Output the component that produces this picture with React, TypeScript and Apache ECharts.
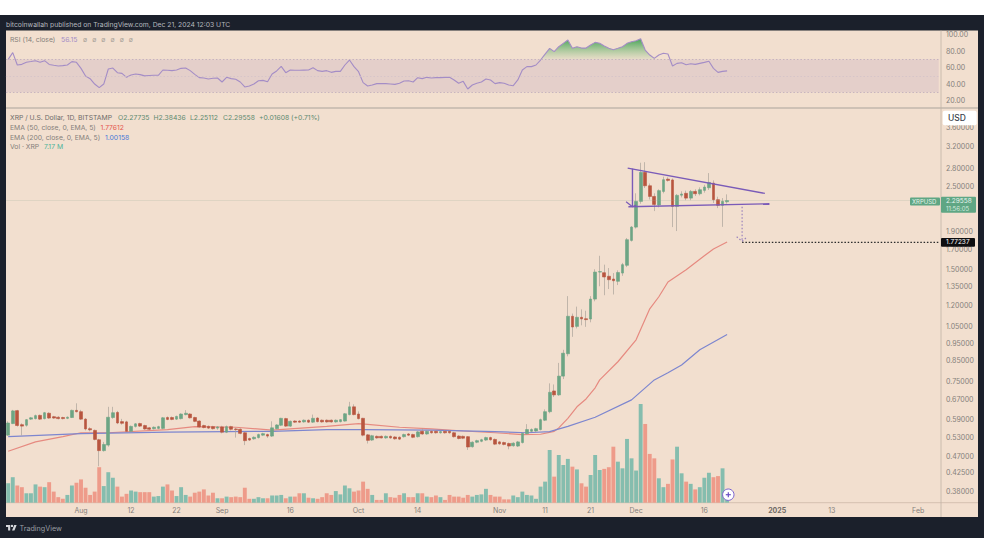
import React, { useEffect, useRef } from "react";
import * as echarts from "echarts";

const opens = [
  0.537,0.577,0.625,0.573,0.571,0.593,0.595,0.607,0.595,0.615,
  0.602,0.600,0.599,0.596,0.599,0.626,0.621,0.593,0.559,0.553,
  0.522,0.488,0.505,0.599,0.618,0.584,0.583,0.550,0.567,0.577,
  0.570,0.562,0.559,0.560,0.560,0.599,0.599,0.593,0.595,0.610,
  0.612,0.599,0.586,0.570,0.567,0.566,0.561,0.565,0.547,0.566,
  0.558,0.557,0.545,0.526,0.525,0.529,0.537,0.539,0.534,0.559,
  0.571,0.595,0.568,0.586,0.586,0.583,0.589,0.582,0.597,0.589,
  0.589,0.589,0.583,0.584,0.586,0.610,0.640,0.612,0.596,0.538,
  0.521,0.533,0.533,0.528,0.533,0.531,0.530,0.532,0.541,0.539,
  0.532,0.550,0.541,0.550,0.550,0.545,0.550,0.550,0.545,0.534,
  0.533,0.532,0.500,0.514,0.517,0.521,0.529,0.523,0.515,0.513,
  0.510,0.503,0.502,0.513,0.542,0.550,0.551,0.556,0.589,0.621,
  0.706,0.689,0.774,0.889,1.121,1.053,1.114,1.104,1.102,1.247,
  1.474,1.468,1.436,1.412,1.392,1.465,1.537,1.793,1.947,2.283,
  2.732,2.515,2.354,2.233,2.428,2.62,2.607,2.213,2.372,2.40,
  2.33,2.428,2.394,2.444,2.484,2.556,2.307,2.228,2.27735,
];
const closes = [
  0.579,0.624,0.570,0.568,0.591,0.598,0.606,0.593,0.617,0.597,
  0.597,0.595,0.595,0.600,0.626,0.621,0.593,0.558,0.555,0.523,
  0.488,0.507,0.600,0.617,0.579,0.578,0.550,0.567,0.576,0.568,
  0.558,0.557,0.564,0.566,0.598,0.592,0.592,0.603,0.612,0.615,
  0.598,0.585,0.565,0.563,0.561,0.559,0.565,0.547,0.566,0.557,
  0.556,0.543,0.519,0.521,0.530,0.539,0.542,0.534,0.562,0.572,
  0.596,0.568,0.585,0.582,0.582,0.589,0.582,0.596,0.584,0.583,
  0.583,0.583,0.589,0.591,0.613,0.640,0.610,0.595,0.537,0.520,
  0.535,0.528,0.528,0.533,0.528,0.525,0.524,0.539,0.537,0.530,
  0.548,0.541,0.550,0.545,0.545,0.549,0.545,0.545,0.532,0.526,
  0.527,0.499,0.514,0.519,0.522,0.529,0.522,0.508,0.509,0.507,
  0.502,0.511,0.515,0.543,0.556,0.556,0.559,0.591,0.621,0.700,
  0.689,0.774,0.892,1.121,1.049,1.114,1.103,1.098,1.247,1.474,
  1.478,1.430,1.406,1.397,1.470,1.543,1.801,1.947,2.283,2.732,
  2.515,2.354,2.240,2.440,2.611,2.60,2.213,2.37,2.39,2.33,
  2.428,2.394,2.454,2.495,2.567,2.307,2.228,2.283,2.29558,
];
const lows = [
  0.535,0.575,0.566,0.536,0.566,0.590,0.592,0.590,0.592,0.594,
  0.594,0.592,0.592,0.593,0.597,0.618,0.590,0.553,0.550,0.520,
  0.443,0.485,0.500,0.594,0.575,0.573,0.547,0.547,0.563,0.565,
  0.555,0.554,0.556,0.557,0.557,0.589,0.589,0.590,0.592,0.607,
  0.595,0.582,0.562,0.560,0.558,0.556,0.555,0.543,0.544,0.553,
  0.529,0.540,0.505,0.518,0.522,0.526,0.534,0.528,0.531,0.556,
  0.568,0.565,0.565,0.579,0.580,0.580,0.579,0.579,0.581,0.580,
  0.580,0.580,0.580,0.581,0.584,0.607,0.607,0.592,0.533,0.510,
  0.518,0.525,0.526,0.525,0.525,0.522,0.521,0.529,0.534,0.527,
  0.529,0.538,0.538,0.542,0.542,0.542,0.542,0.542,0.529,0.523,
  0.524,0.490,0.497,0.511,0.514,0.518,0.519,0.505,0.506,0.504,
  0.492,0.500,0.499,0.510,0.539,0.547,0.548,0.553,0.586,0.615,
  0.68,0.685,0.76,0.875,0.987,1.04,1.06,1.05,1.08,1.23,
  1.35,1.277,1.327,1.283,1.36,1.44,1.52,1.78,1.93,2.25,
  2.48,2.31,2.15,2.20,2.40,2.58,1.947,1.90,2.34,2.30,
  2.30,2.36,2.37,2.41,2.45,2.26,2.19,1.95,2.25112,
];
const highs = [
  0.585,0.628,0.628,0.578,0.593,0.601,0.610,0.610,0.620,0.619,
  0.605,0.604,0.602,0.603,0.629,0.654,0.628,0.597,0.564,0.556,
  0.525,0.515,0.640,0.640,0.624,0.594,0.587,0.570,0.579,0.580,
  0.573,0.565,0.567,0.569,0.601,0.603,0.603,0.606,0.615,0.627,
  0.615,0.602,0.589,0.573,0.570,0.569,0.568,0.569,0.570,0.569,
  0.562,0.560,0.548,0.529,0.533,0.542,0.545,0.542,0.585,0.575,
  0.598,0.598,0.588,0.589,0.589,0.592,0.592,0.610,0.600,0.592,
  0.592,0.592,0.592,0.593,0.616,0.660,0.650,0.622,0.598,0.541,
  0.538,0.536,0.536,0.536,0.536,0.534,0.533,0.542,0.544,0.542,
  0.551,0.560,0.553,0.553,0.553,0.552,0.553,0.553,0.548,0.537,
  0.536,0.534,0.517,0.522,0.525,0.532,0.532,0.526,0.518,0.516,
  0.513,0.514,0.518,0.546,0.575,0.560,0.562,0.595,0.630,0.74,
  0.735,0.84,0.911,1.27,1.14,1.19,1.17,1.16,1.27,1.50,
  1.63,1.543,1.511,1.465,1.49,1.56,1.82,1.96,2.40,2.90,
  2.91,2.55,2.40,2.46,2.66,2.65,2.63,2.39,2.43,2.44,
  2.45,2.46,2.49,2.53,2.72,2.60,2.35,2.33,2.38436,
];
const volumes = [
  35,46,31,28,17,17,33,29,28,37,
  20,10,7,14,31,36,42,27,14,20,
  64,30,55,45,29,11,16,22,20,19,
  19,19,11,12,29,33,22,12,28,14,
  11,18,20,24,13,18,8,8,11,10,
  11,10,27,7,7,10,8,8,13,13,
  14,8,11,11,17,17,9,8,7,10,
  17,14,21,15,31,26,20,22,38,25,
  14,5,5,17,10,9,14,17,10,10,
  17,17,11,10,13,10,5,14,11,11,
  9,14,11,14,15,25,14,11,11,6,
  6,13,10,20,14,13,7,29,38,95,
  47,86,68,79,65,60,35,29,50,86,
  59,61,64,101,74,62,115,80,58,178,
  142,88,80,44,28,34,78,101,53,38,
  34,24,28,45,54,46,48,62,7.17,
];
const rsiValues = [
  70.2,78.4,63.3,64.1,66.6,67.5,68.6,66.6,68.6,64,
  63,62.1,62.5,63.3,67.4,66.6,59.2,49.8,46.6,40,
  35.6,40,58.4,59.6,53.9,53.1,48.2,51.1,52.3,51.5,
  50,50.5,50.8,50.7,57.2,56.8,56.4,57.2,59.2,59.6,
  56.4,51.9,47.8,47.4,46.2,47,47.4,42.5,48.2,46.6,
  45.8,42.5,36.4,37.6,40,44.1,44.5,42.9,52.3,56,
  61.7,53.9,57.2,56.8,56.8,57,57.2,60,56.4,55.5,
  56.4,54.3,55.5,55.5,63.3,69.4,61.3,55.1,41.7,37.6,
  38.8,40.5,40.5,40.5,40.1,39.6,40.9,43.7,44.1,42.5,
  47.8,46.6,48.2,47.4,47.8,47.8,48.2,48.2,45,40.9,
  43.3,33.9,38.8,40.9,42.5,46.2,45,40.5,41.7,40.9,
  38.8,38,45,57.2,61.3,61.3,63.3,69.4,76.7,83.7,
  79.6,85.7,89.8,93.9,83.7,85.7,84,84,87.8,91,
  89.8,86.5,83.7,82,83.7,85.7,89.8,91.8,93,95.5,
  81.6,75.5,71.4,75.5,77.6,76.7,62,65.3,66.1,63.7,
  64.9,64.1,65.3,66.5,67.8,59.2,54.3,55.5,56.15,
];
const ema50Days = [0,6,12,16,22,35,41,50,58,70,77,79,86,93,100,107,113,117,120,121,123,125,127,129,130,134,138,141,143,145,149,153,155,158];
const ema50Values = [0.486,0.515,0.532,0.545,0.545,0.556,0.566,0.564,0.554,0.567,0.577,0.574,0.564,0.558,0.551,0.545,0.539,0.540,0.550,0.5615,0.596,0.64,0.672,0.72,0.756,0.846,0.969,1.174,1.265,1.386,1.495,1.63,1.70,1.77612];
const ema200Days = [0,16,35,58,70,78,93,107,114,119,123,129,137,142,145,148,152,158];
const ema200Values = [0.532,0.542,0.547,0.550,0.556,0.556,0.554,0.549,0.545,0.549,0.567,0.60,0.668,0.756,0.79,0.829,0.911,1.00158];

const firstDay = "2024-07-16";
const dayCount = 205;
const timeTicks: Record<number, string> = {
  16: "Aug", 27: "12", 37: "22", 47: "Sep", 62: "16", 77: "Oct", 90: "14", 108: "Nov",
  118: "11", 128: "21", 138: "Dec", 153: "16", 169: "2025", 181: "13", 200: "Feb",
};
const priceTicks = [3.6,3.2,2.8,2.5,1.9,1.7,1.5,1.35,1.2,1.05,0.95,0.85,0.75,0.67,0.59,0.53,0.47,0.425,0.38];
const rsiTicks = [20,40,60,80,100];

const upperTrend = [[136.15,2.806],[166.3,2.399]];
const lowerTrend = [[136.3,2.209],[167.3,2.25]];
const moveArrow = [[137.2,2.796],[137.2,2.209]];
const moveHead = [[135.8,2.278],[137.2,2.209],[138,2.231]];
const targetDrop = [[161.3,2.209],[161.3,1.784]];
const targetHead = [[160.1,1.834],[161.3,1.784],[162.2,1.822]];
const targetLine = [[161.3,1.77237],[205,1.77237]];
const lastPriceLine = [[-0.5,2.29558],[205,2.29558]];

const GREEN = "#6da584";
const RED = "#b8553f";
const VOL_GREEN = "#85bdae";
const VOL_RED = "#ee9b8a";
const WICK = "#aaa49a";
const PURPLE = "#7a5bb8";
const FONT = "Inter";
const GRAY = "#85807b";
const PLOT_LEFT = 5.93;
const PLOT_WIDTH = 932.75;

const categories = Array.from({ length: dayCount }, (_, i) => {
  const d = new Date(firstDay + "T00:00:00Z");
  d.setUTCDate(d.getUTCDate() + i);
  return d.toISOString().slice(0, 10);
});

const annotationLine = (name: string, data: number[][], color: string, width: number, type: any = "solid") => ({
  type: "line", name, data, xAxisIndex: 2, yAxisIndex: 1, showSymbol: false, symbol: "none", z: 8, silent: true,
  lineStyle: { color, width, type }, clip: false,
});

const txt = (x: number, y: number, text: string, fill: string, extra: any = {}) => ({
  type: "text", x, y, z: 50, silent: true,
  style: { text, fill, font: `6.8px ${FONT}`, textVerticalAlign: "middle", ...extra },
});
const rect = (x: number, y: number, width: number, height: number, fill: string, z = -5, r = 0) => ({
  type: "rect", z, silent: true, shape: { x, y, width, height, r }, style: { fill },
});
const hvLine = (x1: number, y1: number, x2: number, y2: number, stroke: string, width = 1, z = 20) => ({
  type: "line", z, silent: true, shape: { x1, y1, x2, y2 }, style: { stroke, lineWidth: width },
});

echarts.graphic.registerShape(
  "tvlogo",
  echarts.graphic.extendPath("M14 22H7V11H0V4h14v18zM28 22h-8l7.5-18h8L28 22zM24 7a4 4 0 1 1-8 0 4 4 0 0 1 8 0z", {}) as any,
);

function buildOption(): any {
  const candleData = opens.map((o, i) => [o, closes[i], lows[i], highs[i]]);
  const bodyData = opens.map((o, i) => [o, closes[i], Math.min(o, closes[i]), Math.max(o, closes[i])]);
  const hotRsi = rsiValues.map((v, i) => (i >= 116 && i <= 142 ? Math.max(v, 70) : null));

  return {
    animation: false,
    backgroundColor: "#ffffff",
    textStyle: { fontFamily: FONT },
    grid: [
      { left: PLOT_LEFT, width: PLOT_WIDTH, top: 30.5, height: 77.5 },
      { left: PLOT_LEFT, width: PLOT_WIDTH, top: 108, height: 397 },
      { left: PLOT_LEFT, width: PLOT_WIDTH, top: 404, height: 98.7 },
    ],
    xAxis: [
      { type: "category", gridIndex: 0, data: categories, show: false },
      {
        type: "category", gridIndex: 1, data: categories,
        axisLine: { show: false }, axisTick: { show: false }, splitLine: { show: false },
        axisLabel: {
          interval: (i: number) => timeTicks[i] !== undefined,
          formatter: (_: string, i: number) => (timeTicks[i] === "2025" ? "{bold|2025}" : timeTicks[i] ?? ""),
          rich: { bold: { fontWeight: 700, fontSize: 7, color: "#6f6a66", fontFamily: FONT } },
          color: GRAY, fontSize: 7, margin: 2, fontFamily: FONT, hideOverlap: false,
        },
      },
      { type: "value", gridIndex: 1, min: -0.5, max: dayCount - 0.5, show: false },
      { type: "category", gridIndex: 2, data: categories, show: false },
    ],
    yAxis: [
      {
        type: "value", gridIndex: 0, position: "right", min: 10.7, max: 105.5,
        axisLine: { show: false }, axisTick: { show: false }, splitLine: { show: false },
        axisLabel: { customValues: rsiTicks, formatter: (v: number) => v.toFixed(2), color: GRAY, fontSize: 7, margin: 7.3, fontFamily: FONT },
      },
      {
        type: "log", logBase: 10, gridIndex: 1, position: "right", min: 0.3485, max: 4.07,
        axisLine: { show: false }, axisTick: { show: false }, splitLine: { show: false }, minorSplitLine: { show: false },
        axisLabel: { customValues: priceTicks, formatter: (v: number) => v.toFixed(5), color: GRAY, fontSize: 7, margin: 7.3, fontFamily: FONT },
      },
      { type: "value", gridIndex: 2, min: 0, max: 178, show: false },
    ],
    series: [
      {
        type: "line", name: "RSI band", xAxisIndex: 0, yAxisIndex: 0, data: [], silent: true,
        markArea: {
          silent: true, itemStyle: { color: "rgba(140,100,170,0.13)" },
          data: [[{ yAxis: 70 }, { yAxis: 30 }]],
        },
        markLine: {
          silent: true, symbol: "none", label: { show: false },
          lineStyle: { color: "#bcaabb", type: [1.5, 2], width: 0.8 },
          data: [{ yAxis: 70 }, { yAxis: 50, lineStyle: { color: "#d3c3c9" } }, { yAxis: 30 }],
        },
      },
      {
        type: "line", name: "RSI overbought", xAxisIndex: 0, yAxisIndex: 0, data: hotRsi, symbol: "none", silent: true,
        lineStyle: { width: 0 }, z: 3,
        areaStyle: {
          origin: 70, opacity: 1,
          color: new echarts.graphic.LinearGradient(0, 0, 0, 1, [
            { offset: 0, color: "rgba(60,160,80,0.95)" },
            { offset: 1, color: "rgba(120,190,120,0.08)" },
          ]),
        },
      },
      {
        type: "line", name: "RSI", xAxisIndex: 0, yAxisIndex: 0, data: rsiValues, symbol: "none", silent: true, z: 4,
        lineStyle: { color: "#a48dc6", width: 1.1 },
      },
      {
        type: "bar", name: "Vol", xAxisIndex: 3, yAxisIndex: 2, barWidth: 3.9, z: 1, silent: true,
        data: volumes.map((v, i) => ({ value: v, itemStyle: { color: closes[i] >= opens[i] ? VOL_GREEN : VOL_RED } })),
      },
      {
        type: "candlestick", name: "XRPUSD wicks", xAxisIndex: 1, yAxisIndex: 1, data: candleData, barWidth: 1, z: 5, silent: true,
        itemStyle: { color: WICK, color0: WICK, borderColor: WICK, borderColor0: WICK, borderWidth: 0.7 },
      },
      {
        type: "candlestick", name: "XRPUSD", xAxisIndex: 1, yAxisIndex: 1, data: bodyData, barWidth: 3.2, z: 6, silent: true,
        itemStyle: { color: GREEN, color0: RED, borderColor: GREEN, borderColor0: RED, borderWidth: 0.6 },
      },
      {
        type: "line", name: "EMA 50", xAxisIndex: 2, yAxisIndex: 1, symbol: "none", z: 4, silent: true,
        data: ema50Days.map((d, i) => [d, ema50Values[i]]), lineStyle: { color: "#e68a80", width: 1.2 },
      },
      {
        type: "line", name: "EMA 200", xAxisIndex: 2, yAxisIndex: 1, symbol: "none", z: 4, silent: true,
        data: ema200Days.map((d, i) => [d, ema200Values[i]]), lineStyle: { color: "#7d86cf", width: 1.2 },
      },
      annotationLine("Last price", lastPriceLine, "rgba(150,170,150,0.25)", 0.8),
      annotationLine("Upper trend", upperTrend, PURPLE, 1.4),
      annotationLine("Lower trend", lowerTrend, PURPLE, 1.4),
      annotationLine("Measured move", moveArrow, PURPLE, 1.4),
      annotationLine("Measured move head", moveHead, PURPLE, 1.2),
      annotationLine("Target drop", targetDrop, "#9b84bd", 1.2, [1.5, 2]),
      annotationLine("Target head", targetHead, "#9b84bd", 1.2, [1.5, 2]),
      annotationLine("Target level", targetLine, "#2a2a2a", 1.2, [1.5, 1.8]),
    ],
    graphic: [{
      elements: [
        rect(0, 0, 984, 554, "#ffffff", -20),
        rect(0, 15, 984, 523, "#1b202b", -15),
        rect(6, 30.5, 972, 486.5, "#f2dfcf", -10),
        hvLine(6, 108, 978, 108, "#aaa39b", 1),
        hvLine(941, 30.5, 941, 517, "#c0b2a6", 0.8),
        hvLine(6, 502.7, 978, 502.7, "#cdb8a8", 0.8, 0),

        txt(6, 24, "bitcoinwallah published on TradingView.com, Dec 21, 2024 12:03 UTC", "#b4b7bd"),
        txt(10, 39.5, "RSI (14, close)", GRAY),
        txt(61, 39.5, "56.15", "#a48dc6"),
        txt(83, 39.5, "∅   ∅   ∅   ∅   ∅   ∅", "#a39d96", { font: `6px ${FONT}` }),

        txt(10, 117, "XRP / U.S. Dollar, 1D, BITSTAMP", "#6f6d6a"),
        txt(118, 117, "O2.27735", "#5d8a70"),
        txt(153.5, 117, "H2.38436", "#5d8a70"),
        txt(190, 117, "L2.25112", "#5d8a70"),
        txt(223, 117, "C2.29558", "#5d8a70"),
        txt(259, 117, "+0.01608 (+0.71%)", "#5d8a70"),
        txt(10, 127, "EMA (50, close, 0, EMA, 5)", GRAY),
        txt(100.5, 127, "1.77612", "#e5564e"),
        txt(10, 137, "EMA (200, close, 0, EMA, 5)", GRAY),
        txt(105, 137, "1.00158", "#4a78d8"),
        txt(10, 146.5, "Vol · XRP", GRAY),
        txt(44, 146.5, "7.17 M", "#4fb49a"),

        rect(942.7, 110.7, 34, 14.5, "#ffffff", 40, 2),
        txt(948, 118, "USD", "#3a3f4b", { font: `500 8.5px ${FONT}` }),

        rect(910, 197.5, 30, 8, "#5fa684", 40, 1),
        txt(912, 201.7, "XRPUSD", "#e6f2ea", { font: `6px ${FONT}` }),
        rect(941, 196.7, 35, 16, "#5fa684", 40, 1),
        txt(946, 200.7, "2.29558", "#e9f4ee", { font: `6.5px ${FONT}` }),
        txt(946, 208.2, "11:56:05", "#d6ebdf", { font: `6px ${FONT}` }),
        rect(941, 238, 34, 8.7, "#0e0e10", 40, 1),
        txt(946, 242, "1.77237", "#ffffff", { font: `6.5px ${FONT}` }),

        { type: "circle", z: 45, silent: true, shape: { cx: 728.3, cy: 494.7, r: 5.7 }, style: { fill: "#ffffff", stroke: "#7a62cf", lineWidth: 1 } },
        hvLine(725.8, 494.7, 730.8, 494.7, "#6a4fc4", 1.2, 46),
        hvLine(728.3, 492.2, 728.3, 497.2, "#6a4fc4", 1.2, 46),

        { type: "tvlogo", x: 6, y: 523.8, scaleX: 0.3, scaleY: 0.3, z: 50, silent: true, style: { fill: "#d5d7db" } },
        txt(19.5, 528.3, "TradingView", "#9a9da3", { font: `7.2px ${FONT}` }),
      ],
    }],
  };
}

export default function App() {
  const ref = useRef<HTMLDivElement>(null);
  useEffect(() => {
    document.body.style.margin = "0";
    const chart = echarts.init(ref.current!, undefined, { renderer: "svg" });
    chart.setOption(buildOption());
    return () => chart.dispose();
  }, []);
  return <div ref={ref} style={{ width: 984, height: 554 }} />;
}
